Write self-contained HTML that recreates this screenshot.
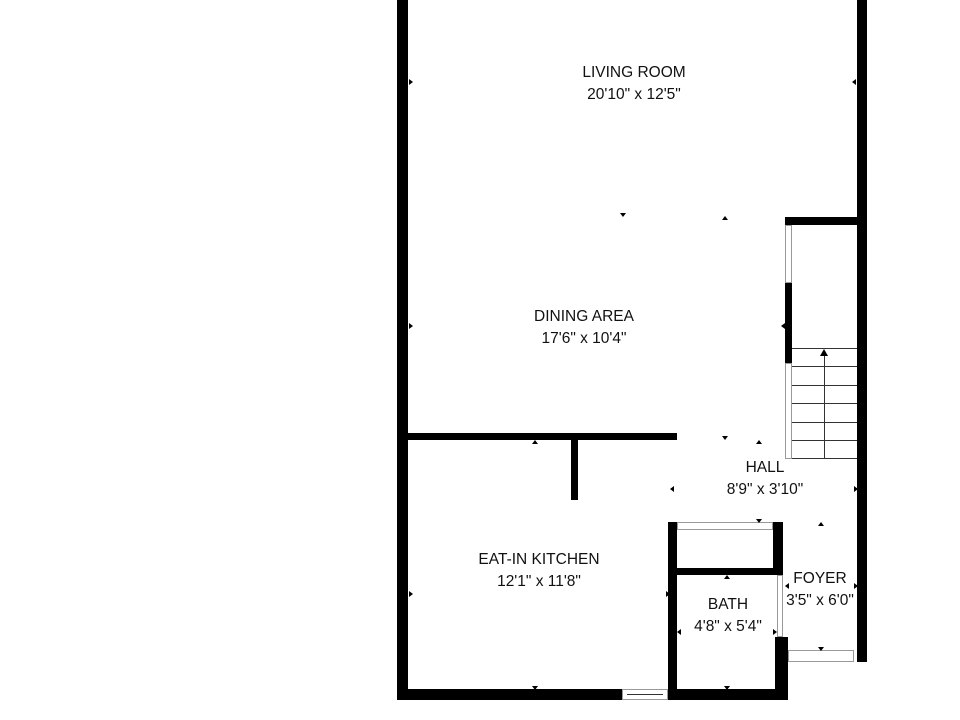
<!DOCTYPE html>
<html><head><style>
body{margin:0;width:960px;height:720px;background:#fff;position:relative;overflow:hidden;font-family:"Liberation Sans",sans-serif}
.w{position:absolute;background:#000}
.g{position:absolute;border:1px solid #999;background:#fff;box-sizing:border-box}
.l{position:absolute;background:#333}
.t{position:absolute;text-align:center;font-size:15.5px;line-height:22px;color:#111;transform:translateX(-50%);white-space:nowrap}
.m{position:absolute;width:0;height:0}
.d{border-left:3px solid transparent;border-right:3px solid transparent;border-top:4px solid #000}
.u{border-left:3px solid transparent;border-right:3px solid transparent;border-bottom:4px solid #000}
.lf{border-top:3px solid transparent;border-bottom:3px solid transparent;border-right:4px solid #000}
.rt{border-top:3px solid transparent;border-bottom:3px solid transparent;border-left:4px solid #000}
</style></head><body>
<div class="w" style="left:397px;top:0;width:11px;height:700px"></div>
<div class="w" style="left:857px;top:0;width:10px;height:662px"></div>
<div class="w" style="left:397px;top:689px;width:225px;height:11px"></div>
<div class="g" style="left:622px;top:689px;width:46px;height:11px"></div>
<div class="l" style="left:627px;top:694px;width:36px;height:1px"></div>
<div class="w" style="left:668px;top:689px;width:120px;height:11px"></div>
<div class="w" style="left:785px;top:217px;width:75px;height:8px"></div>
<div class="g" style="left:785px;top:225px;width:7px;height:58px"></div>
<div class="w" style="left:785px;top:283px;width:7px;height:80px"></div>
<div class="g" style="left:785px;top:363px;width:7px;height:96px"></div>
<div class="l" style="left:792px;top:348px;width:65px;height:1px"></div>
<div class="l" style="left:792px;top:366px;width:65px;height:1px"></div>
<div class="l" style="left:792px;top:385px;width:65px;height:1px"></div>
<div class="l" style="left:792px;top:403px;width:65px;height:1px"></div>
<div class="l" style="left:792px;top:422px;width:65px;height:1px"></div>
<div class="l" style="left:792px;top:440px;width:65px;height:1px"></div>
<div class="l" style="left:792px;top:458px;width:65px;height:1px"></div>
<div class="l" style="left:824px;top:352px;width:1px;height:106px"></div>
<div class="m u" style="left:820px;top:349px;border-bottom-width:7px;border-left-width:4px;border-right-width:4px"></div>
<div class="w" style="left:408px;top:433px;width:269px;height:7px"></div>
<div class="w" style="left:571px;top:440px;width:7px;height:60px"></div>
<div class="w" style="left:668px;top:522px;width:9px;height:170px"></div>
<div class="g" style="left:677px;top:522px;width:96px;height:8px"></div>
<div class="w" style="left:773px;top:522px;width:10px;height:53px"></div>
<div class="w" style="left:668px;top:568px;width:115px;height:7px"></div>
<div class="g" style="left:777px;top:575px;width:6px;height:62px"></div>
<div class="w" style="left:775px;top:637px;width:13px;height:55px"></div>
<div class="w" style="left:780px;top:650px;width:8px;height:12px"></div>
<div class="g" style="left:788px;top:650px;width:66px;height:12px"></div>
<div class="t" style="left:634px;top:62px">LIVING ROOM<br>20'10" x 12'5"</div>
<div class="t" style="left:584px;top:306px">DINING AREA<br>17'6" x 10'4"</div>
<div class="t" style="left:765px;top:457px">HALL<br>8'9" x 3'10"</div>
<div class="t" style="left:539px;top:549px">EAT-IN KITCHEN<br>12'1" x 11'8"</div>
<div class="t" style="left:728px;top:594px">BATH<br>4'8" x 5'4"</div>
<div class="t" style="left:820px;top:568px">FOYER<br>3'5" x 6'0"</div>
<div class="m rt" style="left:409px;top:79px"></div>
<div class="m lf" style="left:852px;top:79px"></div>
<div class="m d" style="left:620px;top:213px"></div>
<div class="m u" style="left:722px;top:216px"></div>
<div class="m rt" style="left:409px;top:323px"></div>
<div class="m lf" style="left:781px;top:323px"></div>
<div class="m d" style="left:722px;top:436px"></div>
<div class="m u" style="left:756px;top:440px"></div>
<div class="m u" style="left:532px;top:440px"></div>
<div class="m lf" style="left:670px;top:486px"></div>
<div class="m rt" style="left:854px;top:486px"></div>
<div class="m d" style="left:756px;top:519px"></div>
<div class="m u" style="left:818px;top:522px"></div>
<div class="m rt" style="left:409px;top:591px"></div>
<div class="m rt" style="left:666px;top:591px"></div>
<div class="m u" style="left:724px;top:575px"></div>
<div class="m lf" style="left:785px;top:583px"></div>
<div class="m rt" style="left:854px;top:583px"></div>
<div class="m lf" style="left:677px;top:629px"></div>
<div class="m rt" style="left:773px;top:629px"></div>
<div class="m d" style="left:818px;top:647px"></div>
<div class="m d" style="left:532px;top:686px"></div>
<div class="m d" style="left:724px;top:686px"></div>
</body></html>
